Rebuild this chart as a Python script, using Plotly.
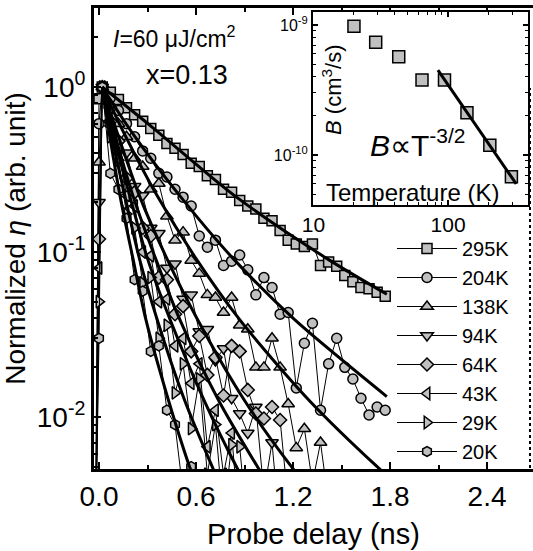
import plotly.graph_objects as go

FONT = "Arial, Liberation Sans, Helvetica, sans-serif"

# ---------------- main panel data ----------------
T_DELAY = [-0.02, 0.00, 0.02, 0.07, 0.12, 0.17, 0.22, 0.27, 0.32, 0.37, 0.42,
           0.47, 0.52, 0.57, 0.62, 0.67, 0.72, 0.77, 0.82, 0.87, 0.92, 0.97,
           1.02, 1.07, 1.12, 1.17, 1.22, 1.27, 1.32, 1.37, 1.42, 1.47, 1.52,
           1.57, 1.62, 1.67, 1.72, 1.77]

LABELS = ["295K", "204K", "138K", "94K", "64K", "43K", "29K", "20K"]
SYMBOLS = ["square", "circle", "triangle-up", "triangle-down", "diamond",
           "triangle-left", "triangle-right", "hexagon"]

V_295K = [0.004, 0.85, 1.0, 0.93, 0.84, 0.75, 0.68, 0.62, 0.56, 0.51, 0.455,
          0.425, 0.39, 0.345, 0.33, 0.29, 0.275, 0.24, 0.23, 0.205, 0.19, 0.182,
          0.16, 0.155, 0.135, 0.118, 0.112, 0.108, 0.112, 0.083, 0.087, 0.082,
          0.072, 0.066, 0.061, 0.060, 0.057, 0.054]
V_204K = [0.003, 0.6, 1.0, 0.86, 0.72, 0.60, 0.50, 0.41, 0.37, 0.30, 0.285,
          0.24, 0.215, 0.19, 0.125, 0.107, 0.118, 0.083, 0.088, 0.096, 0.078,
          0.055, 0.070, 0.061, 0.042, 0.043, 0.015, 0.028, 0.037, 0.011, 0.021,
          0.030, 0.020, 0.017, 0.013, 0.0103, 0.0115, 0.011]
V_138K = [0.002, 0.35, 1.0, 0.78, 0.60, 0.50, 0.37, 0.33, 0.24, 0.26, 0.165,
          0.118, 0.132, 0.089, 0.074, 0.055, 0.053, 0.043, 0.053, 0.036, 0.034,
          0.020, 0.020, 0.030, 0.020, 0.012, 0.0065, 0.0085, 0.004, 0.007, 0.003]
V_94K = [0.002, 0.2, 1.0, 0.72, 0.46, 0.40, 0.25, 0.22, 0.14, 0.13, 0.08,
         0.085, 0.052, 0.055, 0.033, 0.034, 0.022, 0.026, 0.013, 0.0105, 0.008,
         0.0115, 0.0035, 0.007, 0.002]
V_64K = [0.002, 0.12, 1.0, 0.62, 0.47, 0.28, 0.23, 0.14, 0.125, 0.07, 0.068,
         0.042, 0.047, 0.025, 0.031, 0.018, 0.023, 0.0135, 0.027, 0.025, 0.0146,
         0.0105, 0.0098, 0.0115, 0.0096, 0.003]
V_43K = [0.002, 0.08, 1.0, 0.58, 0.42, 0.22, 0.19, 0.10, 0.095, 0.05, 0.052,
         0.027, 0.030, 0.016, 0.021, 0.0066, 0.011, 0.0045, 0.008, 0.002]
V_29K = [0.002, 0.05, 1.0, 0.50, 0.36, 0.17, 0.14, 0.065, 0.07, 0.03, 0.036,
         0.014, 0.021, 0.0085, 0.017, 0.0045, 0.009, 0.0025, 0.0068, 0.0066, 0.002]
V_20K = [0.002, 0.03, 1.0, 0.30, 0.24, 0.16, 0.068, 0.058, 0.025, 0.027, 0.011,
         0.009, 0.0035, 0.005, 0.002]

# fitted curves
FIT_T_295K = [0.02, 0.33, 0.84, 1.41, 1.78]
FIT_V_295K = [1.0, 0.57, 0.219, 0.0912, 0.0555]
FIT_T_204K = [0.02, 0.20, 0.50, 0.83, 1.21, 1.78]
FIT_V_204K = [1.0, 0.537, 0.219, 0.0912, 0.0389, 0.0133]
FIT_V_BASE = [1.0, 0.537, 0.219, 0.0912, 0.0389, 0.0126, 0.0050, 0.0035]
FIT_T_138K = [0.02, 0.15, 0.36, 0.60, 0.87, 1.30, 1.72, 1.90]
FIT_T_94K = [0.02, 0.11, 0.25, 0.42, 0.61, 0.90, 1.19, 1.32]
FIT_T_64K = [0.02, 0.093, 0.21, 0.35, 0.50, 0.74, 0.98, 1.08]
FIT_T_43K = [0.02, 0.084, 0.19, 0.30, 0.44, 0.65, 0.85, 0.94]
FIT_T_29K = [0.02, 0.072, 0.16, 0.25, 0.36, 0.53, 0.70, 0.77]
FIT_T_20K = [0.02, 0.062, 0.13, 0.21, 0.29, 0.43, 0.56, 0.62]

# ---------------- inset data ----------------
INSET_T = [20, 29, 43, 64, 94, 138, 204, 295]
INSET_B = [9.8e-10, 7.36e-10, 5.7e-10, 3.77e-10, 3.77e-10, 2.11e-10, 1.19e-10, 6.8e-11]
INSET_FIT_T = [84, 320]
INSET_FIT_B = [4.5e-10, 6.0e-11]

DATA = [V_295K, V_204K, V_138K, V_94K, V_64K, V_43K, V_29K, V_20K]
FITS = [(FIT_T_295K, FIT_V_295K), (FIT_T_204K, FIT_V_204K),
        (FIT_T_138K, FIT_V_BASE), (FIT_T_94K, FIT_V_BASE),
        (FIT_T_64K, FIT_V_BASE), (FIT_T_43K, FIT_V_BASE),
        (FIT_T_29K, FIT_V_BASE), (FIT_T_20K, FIT_V_BASE)]

GRAY = "#c0c0c0"
fig = go.Figure()

for lab, sym, vals in zip(LABELS, SYMBOLS, DATA):
    fig.add_trace(go.Scatter(
        x=T_DELAY[:len(vals)], y=vals, name=lab, mode="lines+markers",
        line=dict(color="black", width=1),
        marker=dict(symbol=sym, size=11 if "triangle" in sym else 10,
                    color=GRAY, line=dict(color="black", width=1.5)),
    ))

for (ft, fv) in FITS:
    fig.add_trace(go.Scatter(
        x=ft, y=fv[:len(ft)], mode="lines", showlegend=False,
        line=dict(color="black", width=3, shape="spline", smoothing=0.8),
        hoverinfo="skip",
    ))

fig.add_trace(go.Scatter(
    x=INSET_T, y=INSET_B, mode="markers", showlegend=False,
    xaxis="x2", yaxis="y2",
    marker=dict(symbol="square", size=12, color=GRAY,
                line=dict(color="black", width=1.5)),
))
fig.add_trace(go.Scatter(
    x=INSET_FIT_T, y=INSET_FIT_B, mode="lines", showlegend=False,
    xaxis="x2", yaxis="y2", line=dict(color="black", width=3),
))

# geometry
W, H = 533, 551
ML, MR, MT, MB = 94, 0, 8, 82
PW, PH = W - ML - MR, H - MT - MB


def px_x(p):
    return (p - ML) / PW


def px_y(p):
    return (H - MB - p) / PH


LOG_MINOR_MAIN = [k * 10.0 ** e for e in (-3, -2, -1, 0) for k in range(2, 10)]
LOG_MINOR_IN_X = [k * 10.0 ** e for e in (1, 2) for k in range(2, 10)]
LOG_MINOR_IN_Y = [k * 10.0 ** e for e in (-11, -10, -9) for k in range(2, 10)]

fig.update_layout(
    width=W, height=H,
    margin=dict(l=ML, r=MR, t=MT, b=MB, pad=0),
    paper_bgcolor="white", plot_bgcolor="white",
    font=dict(family=FONT, color="black"),
    showlegend=True,
    legend=dict(x=px_x(392), y=px_y(229), xanchor="left", yanchor="top",
                bgcolor="rgba(0,0,0,0)", borderwidth=0,
                font=dict(size=20, family=FONT),
                tracegroupgap=0, itemwidth=60),
    xaxis=dict(
        range=[-0.031, 2.684], showgrid=False, zeroline=False,
        showline=True, linecolor="black", linewidth=3, mirror="ticks",
        ticks="inside", ticklen=7, tickwidth=2, tickcolor="black",
        tickmode="array", tickvals=[0, 0.6, 1.2, 1.8, 2.4],
        ticktext=["0.0", "0.6", "1.2", "1.8", "2.4"],
        tickfont=dict(size=28, family=FONT),
        minor=dict(tickvals=[0.3, 0.9, 1.5, 2.1], ticks="inside", ticklen=4,
                   tickwidth=2, tickcolor="black"),
        title=dict(text="Probe delay (ns)", font=dict(size=29, family=FONT), standoff=14),
    ),
    yaxis=dict(
        type="log", range=[-2.315, 0.479], showgrid=False, zeroline=False,
        showline=True, linecolor="black", linewidth=3,
        ticks="inside", ticklen=7, tickwidth=2, tickcolor="black",
        tickmode="array", tickvals=[0.01, 0.1, 1],
        ticktext=["10<sup>-2</sup>", "10<sup>-1</sup>", "10<sup>0</sup>"],
        tickfont=dict(size=28, family=FONT),
        minor=dict(tickvals=LOG_MINOR_MAIN, ticks="inside", ticklen=4,
                   tickwidth=2, tickcolor="black"),
        title=dict(text="Normalized <i>η</i> (arb. unit)", font=dict(size=28, family=FONT),
                   standoff=5),
    ),
    xaxis2=dict(
        type="log", range=[0.997, 2.593], domain=[px_x(313), px_x(528)],
        anchor="y2", showgrid=False, zeroline=False,
        showline=True, linecolor="black", linewidth=2, mirror="ticks",
        ticks="inside", ticklen=5, tickwidth=1.5, tickcolor="black",
        tickmode="array", tickvals=[10, 100], ticktext=["10", "100"],
        tickfont=dict(size=21, family=FONT),
        minor=dict(tickvals=LOG_MINOR_IN_X, ticks="inside", ticklen=3,
                   tickwidth=1, tickcolor="black"),
    ),
    yaxis2=dict(
        type="log", range=[-10.385, -8.9], domain=[px_y(205), px_y(12)],
        anchor="x2", showgrid=False, zeroline=False,
        showline=True, linecolor="black", linewidth=2, mirror="ticks",
        ticks="inside", ticklen=5, tickwidth=1.5, tickcolor="black",
        tickmode="array", tickvals=[1e-10, 1e-9],
        ticktext=["10<sup>-10</sup>", "10<sup>-9</sup>"],
        tickfont=dict(size=16, family=FONT),
        minor=dict(tickvals=LOG_MINOR_IN_Y, ticks="inside", ticklen=3,
                   tickwidth=1, tickcolor="black"),
    ),
    shapes=[dict(type="line", xref="paper", yref="paper",
                 x0=px_x(530), x1=px_x(530), y0=px_y(468), y1=px_y(88),
                 line=dict(color="black", width=2, dash="dot"))],
)

ann = [
    dict(text="<i>I</i>=60 μJ/cm<sup>2</sup>", x=px_x(174), y=px_y(37), size=23),
    dict(text="x=0.13", x=px_x(187), y=px_y(75), size=27),
    dict(text="<i>B</i>∝T<sup>-3/2</sup>", x=px_x(418), y=px_y(143), size=30),
    dict(text="Temperature (K)", x=px_x(412), y=px_y(192), size=24),
]
for a in ann:
    fig.add_annotation(text=a["text"], x=a["x"], y=a["y"], xref="paper", yref="paper",
                       showarrow=False, font=dict(size=a["size"], family=FONT, color="black"),
                       xanchor="center", yanchor="middle")
fig.add_annotation(text="<i>B</i> (cm<sup>3</sup>/s)", x=px_x(332), y=px_y(90),
                   xref="paper", yref="paper", showarrow=False, textangle=-90,
                   font=dict(size=22, family=FONT, color="black"),
                   xanchor="center", yanchor="middle")

fig.write_html("out.html")
